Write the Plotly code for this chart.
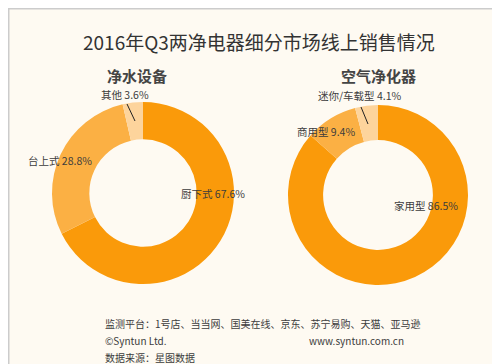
import plotly.graph_objects as go

title = "2016年Q3两净电器细分市场线上销售情况"
water_name = "净水设备"
water_labels = ["厨下式", "台上式", "其他"]
water_values = [67.6, 28.8, 3.6]
air_name = "空气净化器"
air_labels = ["家用型", "商用型", "迷你/车载型"]
air_values = [86.5, 9.4, 4.1]
footer_lines = ["监测平台：1号店、当当网、国美在线、京东、苏宁易购、天猫、亚马逊",
                "©Syntun Ltd.", "数据来源：星图数据"]
footer_url = "www.syntun.com.cn"

W, H = 500, 364
colors = ["#FA9A0A", "#FBB044", "#FDD49C"]
FONT = "Noto Sans CJK SC"
TXT = "#3c3c3c"

def px_domain(cx, cy, r):
    return dict(x=[(cx - r) / W, (cx + r) / W], y=[(H - cy - r) / H, (H - cy + r) / H])

fig = go.Figure()
fig.add_trace(go.Pie(labels=water_labels, values=water_values, sort=False, direction="clockwise",
                     rotation=0, hole=0.59, marker=dict(colors=colors, line=dict(width=0)),
                     textinfo="none", hoverinfo="skip", showlegend=False,
                     domain=px_domain(135, 185, 91)))
fig.add_trace(go.Pie(labels=air_labels, values=air_values, sort=False, direction="clockwise",
                     rotation=0, hole=0.61, marker=dict(colors=colors, line=dict(width=0)),
                     textinfo="none", hoverinfo="skip", showlegend=False,
                     domain=px_domain(370, 187, 90)))

def P(x, y):
    return x / W, 1 - y / H

ann = []
def add_text(text, x, y, size=11, anchor="center", color=TXT):
    px, py = P(x, y)
    ann.append(dict(text=text, x=px, y=py, xref="paper", yref="paper", showarrow=False,
                    xanchor=anchor, yanchor="middle", font=dict(family=FONT, size=size, color=color)))

add_text(title, 251, 33, size=19, color="#333333")
add_text("<b>" + water_name + "</b>", 129, 67, size=15, color="#444444")
add_text("<b>" + air_name + "</b>", 370, 67, size=15, color="#444444")

water_pos = [(205, 185), (52, 152), (117, 86)]
air_pos = [(418, 197), (318, 123), (352, 87)]
for lab, val, (x, y) in zip(water_labels, water_values, water_pos):
    add_text(f"{lab} {val}%", x, y, size=10.5)
for lab, val, (x, y) in zip(air_labels, air_values, air_pos):
    add_text(f"{lab} {val}%", x, y, size=10.5)

add_text(footer_lines[0], 95, 315, size=10, anchor="left")
add_text(footer_lines[1], 95, 332, size=10, anchor="left")
add_text(footer_url, 398, 332, size=10, anchor="right")
add_text(footer_lines[2], 95, 349, size=10, anchor="left")

shapes = []
def line(x0, y0, x1, y1, color="#222222", w=1):
    a, b = P(x0, y0)
    c, d = P(x1, y1)
    shapes.append(dict(type="line", xref="paper", yref="paper", x0=a, y0=b, x1=c, y1=d,
                       line=dict(color=color, width=w)))

line(119, 96, 127, 113)
line(353, 99, 360, 116)
shapes.append(dict(type="rect", xref="paper", yref="paper", x0=0, y0=0, x1=1, y1=1,
                   line=dict(color="#cccccc", width=3)))

fig.update_layout(width=W, height=H, margin=dict(l=0, r=0, t=0, b=0),
                  paper_bgcolor="#FEFAF2", plot_bgcolor="#FEFAF2",
                  annotations=ann, shapes=shapes)
fig.write_html("out.html")
